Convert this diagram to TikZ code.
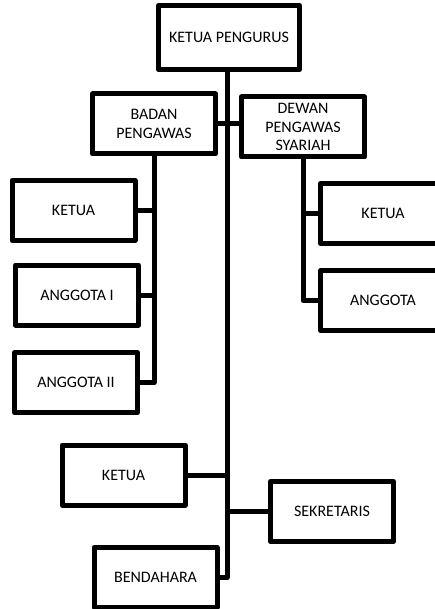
\documentclass[tikz,border=0pt]{standalone}
\usepackage{fontspec}
\setmainfont{Carlito}
\begin{document}
\begin{tikzpicture}[x=1pt,y=-1pt,
  box/.style={draw, line width=5pt, line join=round, minimum width=123pt, minimum height=60pt, align=center, inner sep=2pt, font=\fontsize{16}{18.5}\selectfont},
  link/.style={line width=5pt, line join=round, line cap=butt}]
\useasboundingbox (0,0) rectangle (435,609);
\clip (0,0) rectangle (435,609);
\node[box, minimum width=141pt, minimum height=64pt] (kp) at (229,37.5) {KETUA PENGURUS};
\node[box] (bp) at (154,124) {BADAN\\PENGAWAS};
\node[box] (dps) at (303,127) {DEWAN\\PENGAWAS\\SYARIAH};
\node[box] (k1) at (73.5,210.5) {KETUA};
\node[box] (ai) at (77,295) {ANGGOTA I};
\node[box] (aii) at (76,382.5) {ANGGOTA II};
\node[box, minimum width=125pt] (k2) at (383,213.5) {KETUA};
\node[box, minimum width=125pt] (ang) at (383,300.5) {ANGGOTA};
\node[box] (k3) at (123.5,475) {KETUA};
\node[box] (sek) at (332,511.5) {SEKRETARIS};
\node[box] (ben) at (155.5,577.5) {BENDAHARA};
\coordinate (tb) at (227,577.5);
% trunk
\draw[link] (kp.south -| tb) -- (tb) -- (ben.east);
\draw[link] (bp.east) -- (bp.east -| dps.west);
\draw[link] (k3.east) -- (k3.east -| tb);
\draw[link] (sek.west) -- (sek.west -| tb);
% badan pengawas
\draw[link] (bp.south) -- (bp.south |- aii.east) -- (aii.east);
\draw[link] (k1.east) -- (k1.east -| bp.south);
\draw[link] (ai.east) -- (ai.east -| bp.south);
% dewan pengawas syariah
\draw[link] (dps.south) -- (dps.south |- ang.west) -- (ang.west);
\draw[link] (k2.west) -- (k2.west -| dps.south);
\end{tikzpicture}
\end{document}
